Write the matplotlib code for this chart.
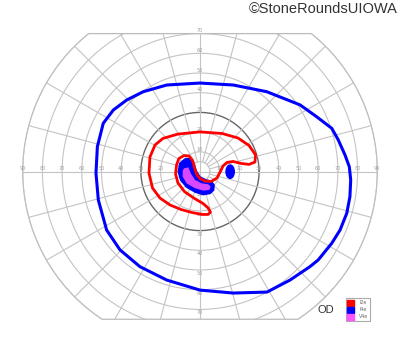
from matplotlib import pyplot as plt
from matplotlib.patches import Polygon, Ellipse, Patch
import numpy as np

# isopters, in degrees (x = horizontal, y = vertical)
# I4e outer isopter
i4e_x = [0, 16.9, 33.9, 50.8, 59.2, 66.9, 70.2, 73.6, 75.8, 76.5, 76.1, 74.5, 71.1, 66.9,
         60.0, 55.8, 45.7, 34.0, 16.8, 0, -16.9, -30.5, -40.6, -47.4, -51.6, -52.8, -52.1,
         -49.1, -44.0, -37.2, -28.8, -16.9]
i4e_y = [44.9, 43.9, 40.5, 33.8, 27.8, 21.9, 16.0, 8.4, 2.4, -4.3, -12.8, -21.2, -29.7, -36.4,
         -44.9, -48.3, -55.1, -61.2, -61.7, -60.2, -55.1, -48.3, -39.8, -29.7, -14.5, -0.9, 12.6,
         24.5, 31.2, 36.3, 40.5, 43.9]

# I2e isopter
i2e_x = [0, 11.2, 19.3, 24.9, 28.2, 27.9, 24.9, 20.8, 16.8, 13.7, 11.7, 10.2, 8.6, 5.6,
         2.5, 0, -1.8, -2.8, -3.8, -5.6, -8.1, -10.7, -11.9, -12.4, -11.2, -7.9, -2.8,
         1.5, 4.1, 5.3, 4.1, 1.0, -4.1, -9.6, -15.2, -20.3, -24.1, -25.9, -25.4, -22.8,
         -18.8, -11.2]
i2e_y = [20.1, 19.3, 17.0, 13.2, 8.4, 4.8, 3.6, 4.1, 5.1, 4.6, 2.8, -0.3, -3.3, -5.1,
         -4.8, -3.6, -1.3, 2.0, 5.6, 7.9, 8.1, 6.6, 3.3, -1.3, -5.8, -10.2, -13.7,
         -16.2, -18.5, -20.6, -21.8, -21.8, -20.8, -19.3, -17.0, -13.5, -8.4, -0.8, 7.4, 13.5,
         16.8, 19.0]

# I4e central island
i4e_blob_x = [-5.1, -3.0, -2.0, 0, 3.0, 5.9, 7.1, 6.9, 5.1, 1.7, -2.5, -6.8, -9.8, -11.0, -10.2, -7.6]
i4e_blob_y = [6.6, 3.8, 0.3, -2.8, -4.3, -5.2, -6.9, -9.4, -11.1, -11.7, -10.4, -7.9, -4.3, -0.1, 4.2, 6.3]

# I4e island near blind spot (centre, width, height)
spot_xy = (15.3, -0.1)
spot_w, spot_h = 4.2, 6.8

# V4e island
v4e_x = [-8.1, -5.9, -4.7, -2.5, 0.9, 4.2, 5.4, 4.7, 1.7, -2.5, -6.8, -8.8, -8.8]
v4e_y = [1.6, 2.1, -0.9, -4.3, -6.0, -6.5, -7.7, -9.4, -9.7, -8.5, -6.0, -2.6, 0.4]

legend_labels = ['I2e', 'I4e', 'V4e']
legend_colors = ['#ff0000', '#0000ff', '#ff55ff']

rings = [10, 20, 30, 40, 50, 60, 70, 80, 90]
h_labels = [10, 20, 30, 40, 50, 60, 70, 80, 90]
v_labels = [10, 20, 30, 40, 50, 60, 70]

top_lim, bot_lim, rmax = 70, 75, 90

#%%
fig = plt.figure(figsize=(4, 3.52), dpi=100)
ax = fig.add_axes([0, 0, 1, 1])
ax.set_xlim(-200 / 1.97, 200 / 1.97)
ax.set_ylim((171.5 - 352) / 1.97, 171.5 / 1.97)
ax.set_aspect('equal')
ax.axis('off')

# chart boundary: r=90 circle cut off at top and bottom
a_top = np.arcsin(top_lim / rmax)
a_bot = np.arcsin(bot_lim / rmax)
t1 = np.linspace(-a_bot, a_top, 100)
t2 = np.linspace(np.pi - a_top, np.pi + a_bot, 100)
bx = np.concatenate([rmax * np.cos(t1), rmax * np.cos(t2)])
by = np.concatenate([rmax * np.sin(t1), rmax * np.sin(t2)])
border = Polygon(np.column_stack([bx, by]), closed=True, fill=False,
                 edgecolor='#bbbbbb', lw=0.9, zorder=1)
ax.add_patch(border)

grid_kw = dict(color='#c4c4c4', lw=0.8, zorder=1)
th = np.linspace(0, 2 * np.pi, 361)
for r in [5] + rings:
    c = '#666666' if r == 30 else '#c4c4c4'
    ln, = ax.plot(r * np.cos(th), r * np.sin(th), color=c, lw=1.0 if r == 30 else 0.8, zorder=1)
    ln.set_clip_path(border)
for ang in np.arange(0, 360, 15):
    a = np.deg2rad(ang)
    r0 = 0 if ang % 90 == 0 else 5
    ln, = ax.plot([r0 * np.cos(a), 100 * np.cos(a)], [r0 * np.sin(a), 100 * np.sin(a)], **grid_kw)
    ln.set_clip_path(border)

lab_kw = dict(fontsize=3.6, color='#a0a0a0', ha='center', zorder=2)
for v in h_labels:
    ax.text(v, 1.3, str(v), va='center', **lab_kw)
    ax.text(-v, 1.3, str(v), va='center', **lab_kw)
for v in v_labels:
    ax.text(0, v + 1.4, str(v), va='center', **lab_kw)
    ax.text(0, -v - 1.8, str(v), va='center', **lab_kw)

# islands
ax.add_patch(Polygon(np.column_stack([i4e_blob_x, i4e_blob_y]), closed=True,
                     facecolor='#0000ff', edgecolor='#0000ff', lw=1.2, zorder=3))
ax.add_patch(Polygon(np.column_stack([v4e_x, v4e_y]), closed=True,
                     facecolor='#ff55ff', edgecolor='none', alpha=0.85, zorder=4))
ax.add_patch(Ellipse(spot_xy, spot_w, spot_h, facecolor='#0000ff', edgecolor='#0000ff', zorder=3))

# isopters
ax.add_patch(Polygon(np.column_stack([i4e_x, i4e_y]), closed=True, fill=False,
                     edgecolor='#0000ff', lw=2.2, joinstyle='round', zorder=5))
ax.add_patch(Polygon(np.column_stack([i2e_x, i2e_y]), closed=True, fill=False,
                     edgecolor='#ff0000', lw=2.0, joinstyle='round', zorder=5))

handles = [Patch(facecolor=c, edgecolor=c) for c in legend_colors]
leg = ax.legend(handles, legend_labels, loc='upper left',
                bbox_to_anchor=(345.5 / 400, 1 - 298 / 352), fontsize=3.4,
                fancybox=False, framealpha=1, edgecolor='#aaaaaa',
                borderpad=0.4, handlelength=1.3, handleheight=1.5,
                labelspacing=0.25, handletextpad=1.2, borderaxespad=0)
leg.get_frame().set_linewidth(0.8)
for t in leg.get_texts():
    t.set_color('#666666')

fig.text(318 / 400, 1 - 310 / 352, 'OD', fontsize=8, color='#333333', ha='left', va='center',
         family='Liberation Sans')
fig.text(398 / 400, 1 - 9 / 352, '\u00a9StoneRoundsUIOWA', fontsize=10.5, color='#333333',
         ha='right', va='center', family='Liberation Sans')

fig.savefig('out.png', dpi=100)
